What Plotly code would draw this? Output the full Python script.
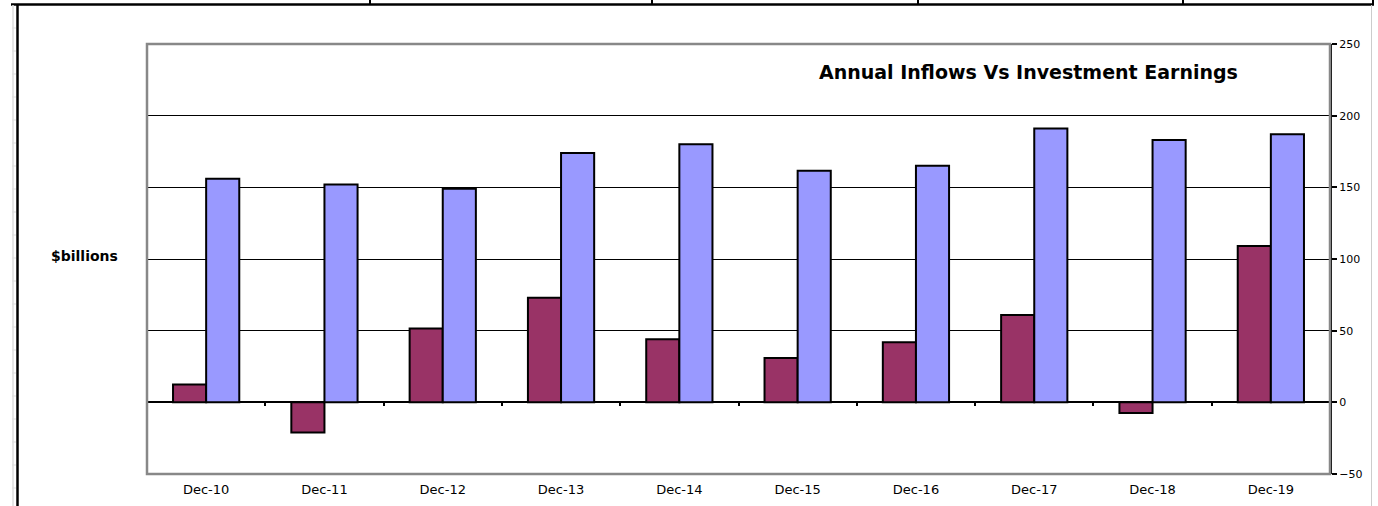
import plotly.graph_objects as go

categories = ["Dec-10", "Dec-11", "Dec-12", "Dec-13", "Dec-14",
              "Dec-15", "Dec-16", "Dec-17", "Dec-18", "Dec-19"]
inflows = [12.5, -21, 51.5, 73, 44, 31, 42, 61, -7.5, 109]
earnings = [156, 152, 149, 174, 180, 161.5, 165, 191, 183, 187]
y_ticks = [-50, 0, 50, 100, 150, 200, 250]

W, H = 1378, 506
L, R, T, B = 147, 48, 44, 32
FONT = "DejaVu Sans, Arial, sans-serif"

fig = go.Figure()
fig.add_trace(go.Bar(x=categories, y=inflows, name="Inflows",
                     marker=dict(color="#993366", line=dict(color="black", width=2))))
fig.add_trace(go.Bar(x=categories, y=earnings, name="Investment Earnings",
                     marker=dict(color="#9999FF", line=dict(color="black", width=2))))
# invisible trace for the category tick axis on the zero line
fig.add_trace(go.Scatter(x=[0, 1], y=[0, 0], xaxis="x2", yaxis="y",
                         mode="markers", marker=dict(opacity=0), showlegend=False,
                         hoverinfo="skip"))

ymin, ymax = -50, 250
zero_pos = (0 - ymin) / (ymax - ymin)

fig.update_layout(
    width=W, height=H,
    margin=dict(l=L, r=R, t=T, b=B, autoexpand=False),
    paper_bgcolor="white", plot_bgcolor="white",
    showlegend=False,
    barmode="group", bargap=0.44, bargroupgap=0,
    font=dict(family=FONT, color="black"),
    xaxis=dict(type="category", showgrid=False, zeroline=False, showline=False,
               ticks="", tickfont=dict(size=13), ticklabelstandoff=6, automargin=False),
    xaxis2=dict(overlaying="x", anchor="free", position=zero_pos, range=[-0.5, 9.5],
                tickvals=[i + 0.5 for i in range(-1, 10)], showticklabels=False,
                ticks="outside", ticklen=3, tickwidth=2, tickcolor="black",
                showgrid=False, zeroline=False, showline=False, automargin=False),
    yaxis=dict(side="right", range=[ymin, ymax], tickvals=y_ticks,
               showgrid=True, gridcolor="black", gridwidth=1.2,
               zeroline=True, zerolinecolor="black", zerolinewidth=2,
               showline=True, linecolor="black", linewidth=2,
               ticks="outside", ticklen=5, tickwidth=2, tickcolor="black",
               tickfont=dict(size=11), automargin=False),
)

shapes = [
    # grey plot-area frame
    dict(type="rect", xref="paper", yref="paper", x0=0, x1=1, y0=0, y1=1,
         line=dict(color="#888888", width=2.5), layer="above"),
]
def px(x):
    return (x - L) / (W - L - R)
def py(y):
    return (H - B - y) / (H - T - B)
# spreadsheet cell frame
shapes.append(dict(type="line", xref="paper", yref="paper", x0=px(11), x1=px(1374), y0=py(4.5), y1=py(4.5),
                   line=dict(color="black", width=2.5)))
shapes.append(dict(type="line", xref="paper", yref="paper", x0=px(17.5), x1=px(17.5), y0=py(4), y1=py(506),
                   line=dict(color="black", width=2.5)))
shapes.append(dict(type="line", xref="paper", yref="paper", x0=px(13), x1=px(13), y0=py(5), y1=py(506),
                   line=dict(color="#dddddd", width=1.5)))
shapes.append(dict(type="line", xref="paper", yref="paper", x0=px(1371.5), x1=px(1371.5), y0=py(5), y1=py(506),
                   line=dict(color="#cccccc", width=1)))
for xd in [370, 652, 918, 1183, 1373]:
    shapes.append(dict(type="line", xref="paper", yref="paper", x0=px(xd), x1=px(xd), y0=py(0), y1=py(5),
                       line=dict(color="black", width=2)))
for yr in range(28, 506, 23):
    shapes.append(dict(type="line", xref="paper", yref="paper", x0=px(12), x1=px(16), y0=py(yr), y1=py(yr),
                       line=dict(color="#dddddd", width=1)))
fig.update_layout(shapes=shapes)

fig.add_annotation(text="<b>Annual Inflows Vs Investment Earnings</b>", xref="paper", yref="paper",
                   x=px(1028), y=py(72), xanchor="center", yanchor="middle", showarrow=False,
                   font=dict(size=19, family=FONT, color="black"))
fig.add_annotation(text="<b>$billions</b>", xref="paper", yref="paper",
                   x=px(84), y=py(256), xanchor="center", yanchor="middle", showarrow=False,
                   font=dict(size=14, family=FONT, color="black"))

fig.write_html("out.html")
